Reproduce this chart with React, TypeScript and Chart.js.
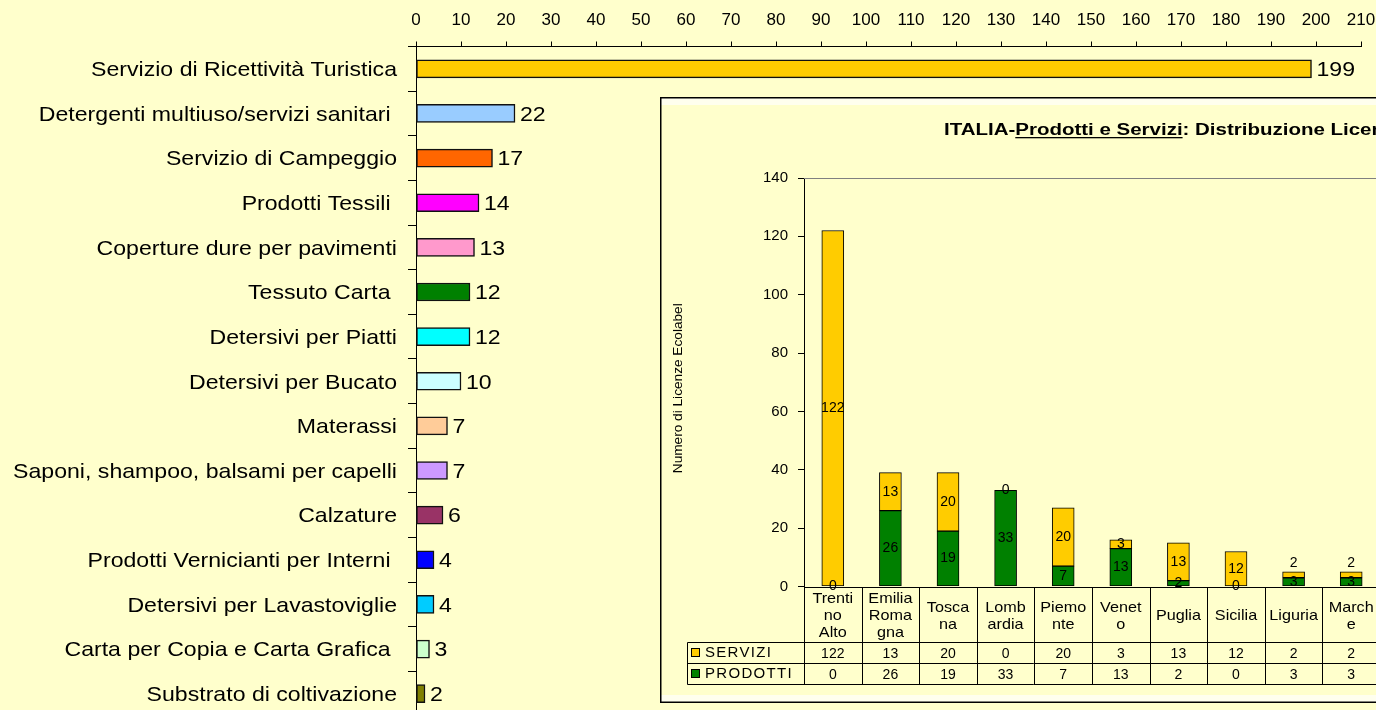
import React, { useEffect, useRef } from 'react';
import { Chart, registerables } from 'chart.js';

Chart.register(...registerables);

const FONT = '"Liberation Sans", Arial, Helvetica, sans-serif';

// ---- Main chart data ----
const productCategories = [
  'Servizio di Ricettività Turistica',
  'Detergenti multiuso/servizi sanitari ',
  'Servizio di Campeggio',
  'Prodotti Tessili ',
  'Coperture dure per pavimenti',
  'Tessuto Carta ',
  'Detersivi per Piatti',
  'Detersivi per Bucato',
  'Materassi',
  'Saponi, shampoo, balsami per capelli',
  'Calzature',
  'Prodotti Vernicianti per Interni ',
  'Detersivi per Lavastoviglie',
  'Carta per Copia e Carta Grafica ',
  'Substrato di coltivazione',
];
const licenceCounts = [199, 22, 17, 14, 13, 12, 12, 10, 7, 7, 6, 4, 4, 3, 2];
const barColors = [
  '#FFCC00', '#99CCFF', '#FF6600', '#FF00FF', '#FF99CC',
  '#008000', '#00FFFF', '#CCFFFF', '#FFCC99', '#CC99FF',
  '#993366', '#0000FF', '#00CCFF', '#CCFFCC', '#808000',
];
const mainAxisMin = 0;
const mainAxisMax = 210;
const mainAxisStep = 10;

// ---- Inset chart data ----
const regionLabelLines = [
  ['Trenti', 'no', 'Alto'],
  ['Emilia', 'Roma', 'gna'],
  ['Tosca', 'na'],
  ['Lomb', 'ardia'],
  ['Piemo', 'nte'],
  ['Venet', 'o'],
  ['Puglia'],
  ['Sicilia'],
  ['Liguria'],
  ['March', 'e'],
];
const serviziValues = [122, 13, 20, 0, 20, 3, 13, 12, 2, 2];
const prodottiValues = [0, 26, 19, 33, 7, 13, 2, 0, 3, 3];
const serviziName = 'SERVIZI';
const prodottiName = 'PRODOTTI';
const serviziColor = '#FFCC00';
const prodottiColor = '#008000';
const insetTitleParts = ['ITALIA-', 'Prodotti e Servizi', ': Distribuzione Licenze Ecolabel'];
const insetYTitle = 'Numero di Licenze Ecolabel';
const insetYMin = 0;
const insetYMax = 140;
const insetYStep = 20;

export default function App() {
  const mainRef = useRef<HTMLCanvasElement>(null);
  const insetRef = useRef<HTMLCanvasElement>(null);

  useEffect(() => {
    document.body.style.margin = '0';
    document.body.style.overflow = 'hidden';
    Chart.defaults.font.family = FONT;
    Chart.defaults.color = '#000';

    const mainLabels = {
      id: 'mainLabels',
      afterDraw(chart: any) {
        const { ctx } = chart;
        const yScale = chart.scales.y;
        ctx.save();
        ctx.fillStyle = '#000';
        ctx.font = `21px ${FONT}`;
        ctx.textBaseline = 'middle';
        productCategories.forEach((c, i) => {
          const y = yScale.getPixelForValue(i);
          ctx.save();
          ctx.translate(yScale.right - 19, y + 1.5);
          ctx.scale(1.1, 1);
          ctx.textAlign = 'right';
          ctx.fillText(c, 0, 0);
          ctx.restore();
        });
        const meta = chart.getDatasetMeta(0);
        meta.data.forEach((bar: any, i: number) => {
          ctx.save();
          ctx.translate(bar.x + 5, bar.y + 1.5);
          ctx.scale(1.1, 1);
          ctx.textAlign = 'left';
          ctx.fillText(String(licenceCounts[i]), 0, 0);
          ctx.restore();
        });
        ctx.restore();
      },
    };

    const main = new Chart(mainRef.current as HTMLCanvasElement, {
      type: 'bar',
      data: {
        labels: productCategories,
        datasets: [
          {
            data: licenceCounts,
            backgroundColor: barColors,
            borderColor: '#111',
            borderWidth: 1.5,
            borderSkipped: false,
            barThickness: 18,
          },
        ],
      },
      options: {
        indexAxis: 'y',
        responsive: false,
        animation: false,
        layout: { padding: { left: 0, right: 15, top: 0, bottom: 0 } },
        plugins: { legend: { display: false }, tooltip: { enabled: false } },
        scales: {
          x: {
            position: 'top',
            min: mainAxisMin,
            max: mainAxisMax,
            ticks: { stepSize: mainAxisStep, font: { size: 17, family: FONT }, color: '#000', padding: 11, maxRotation: 0, autoSkip: false },
            grid: { drawOnChartArea: false, tickLength: 5, color: '#000' },
            border: { color: '#000', width: 1 },
            afterFit: (s: any) => { s.height = 46.5; s.paddingLeft = 0; s.paddingRight = 0; },
          },
          y: {
            ticks: { display: false },
            grid: { drawOnChartArea: false, tickLength: 8, color: '#000', offset: true },
            border: { color: '#000', width: 1 },
            afterFit: (s: any) => { s.width = 416; s.paddingTop = 0; s.paddingBottom = 0; },
          },
        },
      },
      plugins: [mainLabels],
    } as any);

    const insetDecor = {
      id: 'insetDecor',
      beforeDraw(chart: any) {
        const { ctx, width, height } = chart;
        ctx.save();
        ctx.fillStyle = '#FFFFCC';
        ctx.fillRect(0, 0, width, height);
        ctx.fillStyle = '#FFFFEE';
        ctx.fillRect(1, 1, width, 7);
        ctx.fillRect(1, height - 8, width, 7);
        ctx.restore();
      },
      afterDatasetsDraw(chart: any) {
        const { ctx } = chart;
        const mP = chart.getDatasetMeta(0).data;
        const mS = chart.getDatasetMeta(1).data;
        ctx.save();
        ctx.fillStyle = '#000';
        ctx.font = `14px ${FONT}`;
        ctx.textAlign = 'center';
        ctx.textBaseline = 'middle';
        for (let i = 0; i < mP.length; i++) {
          const p = mP[i];
          const s = mS[i];
          const cP = (p.y + p.base) / 2;
          let cS = (s.y + s.base) / 2;
          if (Math.abs(cP - cS) < 15) cS = s.y - 9;
          ctx.fillText(String(prodottiValues[i]), p.x, cP);
          ctx.fillText(String(serviziValues[i]), s.x, cS);
        }
        ctx.restore();
      },
      afterDraw(chart: any) {
        const { ctx, chartArea: ca, width, height } = chart;
        const x = chart.scales.x;
        ctx.save();

        // plot frame top (gray)
        ctx.strokeStyle = '#808080';
        ctx.lineWidth = 1;
        ctx.beginPath();
        ctx.moveTo(ca.left, Math.round(ca.top) + 0.5);
        ctx.lineTo(ca.right, Math.round(ca.top) + 0.5);
        ctx.stroke();

        // title
        ctx.fillStyle = '#000';
        ctx.font = `bold 16px ${FONT}`;
        ctx.textAlign = 'left';
        ctx.textBaseline = 'alphabetic';
        ctx.save();
        ctx.translate(284, 38);
        ctx.scale(1.28, 1);
        let cx = 0;
        insetTitleParts.forEach((part, k) => {
          ctx.fillText(part, cx, 0);
          const w = ctx.measureText(part).width;
          if (k === 1) ctx.fillRect(cx, 2, w, 1.3);
          cx += w;
        });
        ctx.restore();

        // y axis title
        ctx.save();
        ctx.font = `13px ${FONT}`;
        ctx.translate(18, (ca.top + ca.bottom) / 2 + 6);
        ctx.rotate(-Math.PI / 2);
        ctx.scale(1.05, 1);
        ctx.textAlign = 'center';
        ctx.textBaseline = 'middle';
        ctx.fillText(insetYTitle, 0, 0);
        ctx.restore();

        // data table
        const n = regionLabelLines.length;
        const colW = (ca.right - ca.left) / n;
        const top = Math.round(ca.bottom) + 0.5;
        const r1 = top + 55;
        const r2 = r1 + 21;
        const r3 = r2 + 21;
        const legendLeft = 27.5;
        ctx.strokeStyle = '#000';
        ctx.lineWidth = 1;
        ctx.beginPath();
        ctx.moveTo(ca.left, top);
        ctx.lineTo(ca.right, top);
        for (let k = 0; k <= n; k++) {
          const xx = Math.round(ca.left + k * colW) + 0.5;
          ctx.moveTo(xx, top);
          ctx.lineTo(xx, r3);
        }
        [r1, r2, r3].forEach((yy) => {
          ctx.moveTo(legendLeft, yy);
          ctx.lineTo(ca.right, yy);
        });
        ctx.moveTo(legendLeft, r1);
        ctx.lineTo(legendLeft, r3);
        ctx.stroke();

        // region labels
        ctx.font = `15px ${FONT}`;
        ctx.textAlign = 'center';
        ctx.textBaseline = 'middle';
        const mid = (top + r1) / 2;
        regionLabelLines.forEach((lines, i) => {
          const px = x.getPixelForValue(i);
          lines.forEach((ln, j) => {
            const yy = mid + (j - (lines.length - 1) / 2) * 17 + 1;
            ctx.save();
            ctx.translate(px, yy);
            ctx.scale(1.08, 1);
            ctx.fillText(ln, 0, 0);
            ctx.restore();
          });
        });

        // values rows
        ctx.font = `14px ${FONT}`;
        const rowS = (r1 + r2) / 2 + 1;
        const rowP = (r2 + r3) / 2 + 1;
        for (let i = 0; i < n; i++) {
          const px = x.getPixelForValue(i);
          ctx.fillText(String(serviziValues[i]), px, rowS);
          ctx.fillText(String(prodottiValues[i]), px, rowP);
        }

        // legend keys
        const drawKey = (yy: number, color: string, name: string) => {
          ctx.fillStyle = color;
          ctx.fillRect(31, yy - 4, 8, 8);
          ctx.strokeStyle = '#000';
          ctx.strokeRect(31.5, yy - 4.5, 8, 8);
          ctx.fillStyle = '#000';
          ctx.font = `15px ${FONT}`;
          ctx.textAlign = 'left';
          (ctx as any).letterSpacing = '1.3px';
          ctx.fillText(name, 45, yy);
          (ctx as any).letterSpacing = '0px';
        };
        drawKey(rowS - 1, serviziColor, serviziName);
        drawKey(rowP - 1, prodottiColor, prodottiName);

        // outer border
        ctx.strokeStyle = '#000';
        ctx.lineWidth = 1.5;
        ctx.strokeRect(0.75, 0.75, width - 1.5, height - 1.5);
        ctx.restore();
      },
    };

    const inset = new Chart(insetRef.current as HTMLCanvasElement, {
      type: 'bar',
      data: {
        labels: regionLabelLines.map((l) => l.join('')),
        datasets: [
          {
            label: prodottiName,
            data: prodottiValues,
            backgroundColor: prodottiColor,
            borderColor: '#000',
            borderWidth: 1,
            borderSkipped: false,
            barThickness: 22,
          },
          {
            label: serviziName,
            data: serviziValues,
            backgroundColor: serviziColor,
            borderColor: '#000',
            borderWidth: 1,
            borderSkipped: false,
            barThickness: 22,
          },
        ],
      },
      options: {
        responsive: false,
        animation: false,
        layout: { padding: { top: 81, bottom: 116.5, left: 0, right: 20 } },
        plugins: { legend: { display: false }, tooltip: { enabled: false } },
        scales: {
          x: { stacked: true, display: false },
          y: {
            stacked: true,
            min: insetYMin,
            max: insetYMax,
            ticks: { stepSize: insetYStep, font: { size: 15, family: FONT }, color: '#000', padding: 10 },
            grid: { drawOnChartArea: false, tickLength: 6, color: '#000' },
            border: { color: '#000', width: 1 },
            afterFit: (s: any) => { s.width = 144; s.paddingTop = 0; s.paddingBottom = 0; },
          },
        },
      },
      plugins: [insetDecor],
    } as any);

    return () => {
      main.destroy();
      inset.destroy();
    };
  }, []);

  return (
    <div style={{ position: 'relative', width: 1376, height: 710, overflow: 'hidden', background: '#FFFFCC' }}>
      <canvas ref={mainRef} width={1376} height={716} style={{ position: 'absolute', left: 0, top: 0 }} />
      <canvas ref={insetRef} width={740} height={606} style={{ position: 'absolute', left: 660, top: 97 }} />
    </div>
  );
}
